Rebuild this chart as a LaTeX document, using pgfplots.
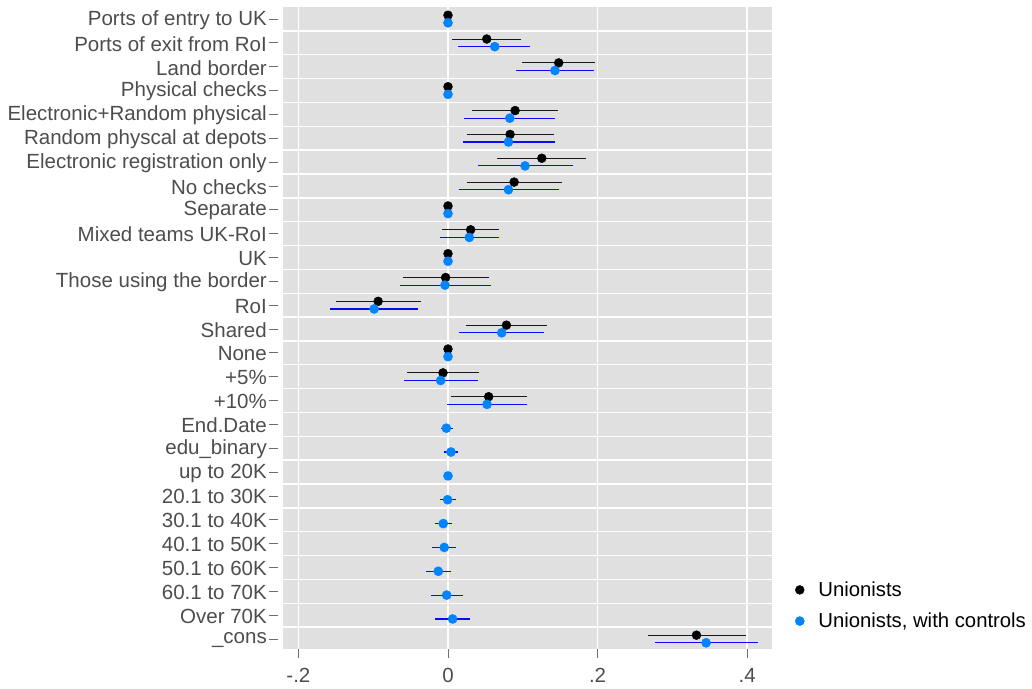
\documentclass[border=0pt]{standalone}
\usepackage{pgfplots}
\pgfplotsset{compat=1.18}
\usepackage{pgfplotstable}
\usepackage{fontspec}
\setmainfont{Liberation Sans}
\definecolor{panelbg}{RGB}{224,224,224}
\definecolor{dotblue}{RGB}{0,132,255}
\definecolor{ciblue}{RGB}{10,10,255}
\definecolor{labgray}{RGB}{77,77,77}
\definecolor{tickgray}{RGB}{110,110,110}

\pgfplotstableread{
row x lo hi
0 0 0 0
1 0.0518 0.0057 0.0973
2 0.148 0.0995 0.197
3 0 0 0
4 0.0897 0.0326 0.147
5 0.083 0.0254 0.1415
6 0.1254 0.0656 0.1848
7 0.0884 0.025 0.1518
8 0 0 0
9 0.0303 -0.008 0.0687
10 0 0 0
11 -0.0032 -0.0603 0.0544
12 -0.0934 -0.1496 -0.0367
13 0.0781 0.0245 0.1317
14 0 0 0
15 -0.0067 -0.0545 0.0419
16 0.0544 0.004 0.1062
26 0.3322 0.267 0.3978
}\unionists

\pgfplotstableread{
row x lo hi
0 0 0 0
1 0.0625 0.0138 0.110
2 0.143 0.0915 0.1955
3 0 0 0
4 0.0826 0.0219 0.1437
5 0.0808 0.0205 0.1424
6 0.103 0.0397 0.1665
7 0.0808 0.0142 0.1478
8 0 0 0
9 0.0285 -0.0112 0.0687
10 0 0 0
11 -0.004 -0.0648 0.058
12 -0.0987 -0.1577 -0.0402
13 0.0718 0.0151 0.129
14 0 0 0
15 -0.0098 -0.0594 0.0401
16 0.0522 -0.0009 0.1058
17 -0.0022 -0.0098 0.0067
18 0.004 -0.0054 0.0129
19 0 0 0
20 -0.0005 -0.0112 0.0102
21 -0.0063 -0.0174 0.0054
22 -0.005 -0.021 0.0107
23 -0.013 -0.0295 0.004
24 -0.0018 -0.0233 0.0201
25 0.0062 -0.018 0.0299
26 0.3451 0.2768 0.4139
}\controls

\begin{document}
\begin{tikzpicture}
\begin{axis}[
  at={(0,0)}, anchor=south west,
  scale only axis, width=489bp, height=642bp,
  xmin=-0.2206, xmax=0.4332,
  ymin=-0.503, ymax=26.42,
  y dir=reverse,
  axis background/.style={fill=panelbg},
  axis line style={draw=none},
  xtick={-0.2,0,0.2,0.4},
  xticklabels={-.2,0,.2,.4},
  ytick={0,...,26},
  yticklabels={Ports of entry to UK,Ports of exit from RoI,Land border,Physical checks,Electronic+Random physical,Random physcal at depots,Electronic registration only,No checks,Separate,Mixed teams UK-RoI,UK,Those using the border,RoI,Shared,None,+5\%,+10\%,End.Date,edu\_binary,up to 20K,20.1 to 30K,30.1 to 40K,40.1 to 50K,50.1 to 60K,60.1 to 70K,Over 70K,\_cons},
  minor ytick={0.5,1.5,...,25.5},
  xmajorgrids, yminorgrids,
  major grid style={white, line width=1.6pt},
  minor grid style={white, line width=1.4pt},
  tick align=outside,
  major tick length=9bp,
  minor tick length=0pt,
  tick style={tickgray, line width=0.8pt},
  ytick style={xshift=-5bp},
  xtick pos=bottom, ytick pos=left,
  ticklabel style={font=\fontsize{20.5bp}{22bp}\selectfont, text=labgray},
  yticklabel style={inner sep=0bp, xshift=-7bp, yshift=-1bp},
  xticklabel style={inner sep=0bp, yshift=-10bp},
  clip=false,
  legend style={at={(1.047,0.0678)}, anchor=west, draw=none, fill=none,
    font=\fontsize{20.3bp}{22bp}\selectfont, row sep=11bp, inner sep=0pt,
    /tikz/every odd column/.append style={column sep=12bp}},
  legend cell align=left,
]
\addplot[only marks, mark=*, mark size=4.5pt, mark options={draw=black, fill=black},
  error bars/.cd, x dir=both, x explicit, error mark=none,
  error bar style={black!90, line width=0.9pt}]
  table[x=x, y expr=\thisrow{row}-0.16,
        x error plus expr=\thisrow{hi}-\thisrow{x},
        x error minus expr=\thisrow{x}-\thisrow{lo}] {\unionists};
\addplot[only marks, mark=*, mark size=4.6pt, mark options={draw=dotblue, fill=dotblue},
  error bars/.cd, x dir=both, x explicit, error mark=none,
  error bar style={ciblue, line width=1.1pt}]
  table[x=x, y expr=\thisrow{row}+0.16,
        x error plus expr=\thisrow{hi}-\thisrow{x},
        x error minus expr=\thisrow{x}-\thisrow{lo}] {\controls};
\legend{}
\addlegendimage{legend image code/.code={\fill[black] (0bp,0bp) circle (3bp);}}
\addlegendentry{Unionists}
\addlegendimage{legend image code/.code={\fill[dotblue] (0bp,0bp) circle (3bp);}}
\addlegendentry{Unionists, with controls}
\end{axis}
\pgfresetboundingbox
\path[use as bounding box] (-283bp,-40bp) rectangle (749bp,649bp);
\end{tikzpicture}
\end{document}
